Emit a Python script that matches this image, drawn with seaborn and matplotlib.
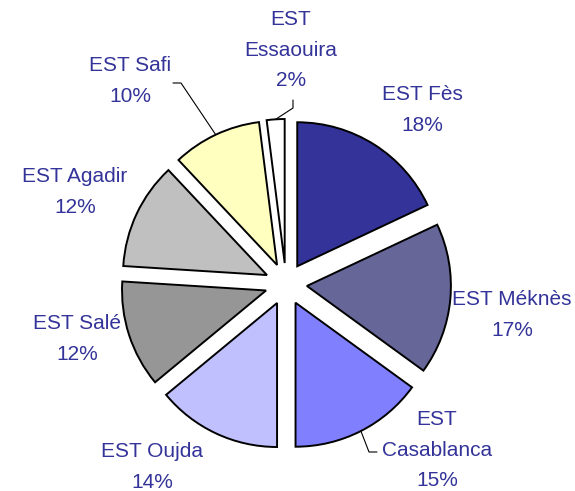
import matplotlib.pyplot as plt
import seaborn as sns
import numpy as np

ecoles = ["EST Fès", "EST Méknès", "EST\nCasablanca", "EST Oujda",
          "EST Salé", "EST Agadir", "EST Safi", "EST\nEssaouira"]
parts = [18, 17, 15, 14, 12, 12, 10, 2]
couleurs = ["#333399", "#666699", "#8080FF", "#C0C0FF",
            "#969696", "#C0C0C0", "#FFFFC0", "#FFFFFF"]

sns.set_style("white")
plt.rcParams['font.family'] = ['Liberation Sans', 'DejaVu Sans']

W, H = 575, 491
# label centres in pixels (from the top left corner)
pos_labels = [(422, 110), (512, 315), (437, 450), (152, 467),
              (77, 339), (75, 192), (130, 81), (291, 50)]
# leader lines: index -> (elbow, end) in pixels
leaders = {2: ((369, 452), (377, 452)),
           6: ((181, 83), (173, 83)),
           7: ((293, 108), (293, 100))}

fig = plt.figure(figsize=(W / 100, H / 100), dpi=100)
ax = fig.add_axes([0, 0, 1, 1])

wedges, _ = ax.pie(parts, colors=couleurs, startangle=90, counterclock=False,
                   radius=144, center=(286, H - 284), explode=[21] * len(parts),
                   wedgeprops=dict(edgecolor="black", linewidth=1.4))
ax.set_xlim(0, W)
ax.set_ylim(0, H)
ax.axis("off")

for i, (nom, p) in enumerate(zip(ecoles, parts)):
    x, y = pos_labels[i]
    ax.text(x, H - y, f"{nom}\n{p}%", ha="center", va="center",
            multialignment="center", fontsize=15, color="#333399",
            linespacing=1.75)
    if i in leaders:
        w = wedges[i]
        ang = np.deg2rad((w.theta1 + w.theta2) / 2)
        cx, cy = w.center
        ax_pt = (cx + w.r * np.cos(ang), cy + w.r * np.sin(ang))
        (ex, ey), (fx, fy) = leaders[i]
        ax.plot([ax_pt[0], ex, fx], [ax_pt[1], H - ey, H - fy],
                color="black", linewidth=0.8)

plt.savefig("out.png", dpi=100)
